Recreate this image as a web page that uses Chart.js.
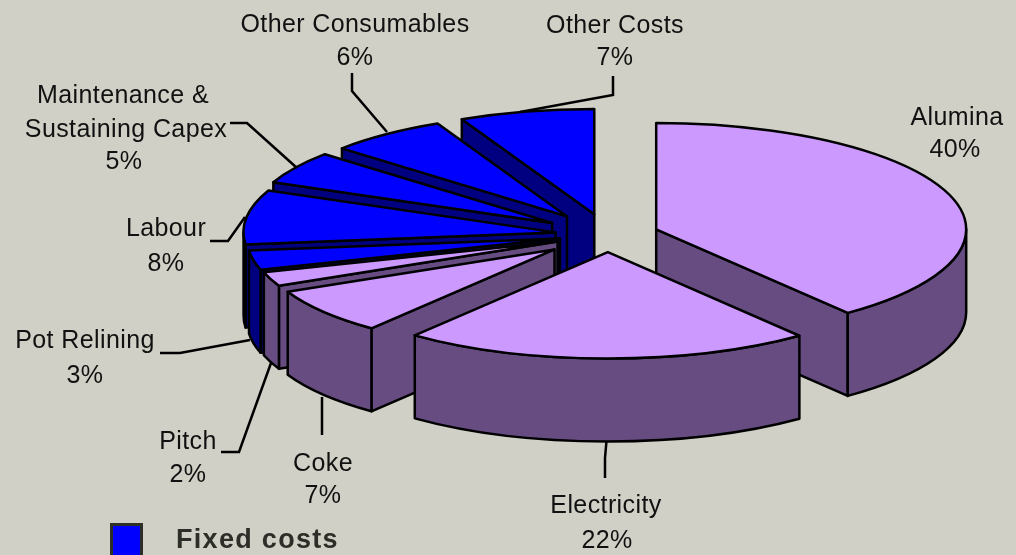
<!DOCTYPE html>
<html>
<head>
<meta charset="utf-8">
<title>Cost breakdown</title>
<script src="https://cdn.jsdelivr.net/npm/chart.js@4"></script>
<style>
  html, body { margin: 0; padding: 0; background: #d0d0c6; overflow: hidden; }
  #wrap { width: 1016px; height: 555px; }
</style>
</head>
<body>
<div id="wrap"><canvas id="pie"></canvas></div>
<script>
"use strict";

const categories = ["Alumina", "Electricity", "Coke", "Pitch", "Pot Relining", "Labour", "Maintenance & Sustaining Capex", "Other Consumables", "Other Costs"];
const shares = [39.4, 21.3, 7.4, 2.2, 2.9, 8.2, 5.1, 6.4, 7.1];
const percents = ["40%", "22%", "7%", "2%", "3%", "8%", "5%", "6%", "7%"];
const legendLabel = "Fixed costs";

// look of the slices
const LILAC = "#cc99ff", LILAC_WALL = "#664c80", BLUE = "#0000ff", BLUE_WALL = "#000080";
const topColors = [LILAC, LILAC, LILAC, LILAC, BLUE, BLUE, BLUE, BLUE, BLUE];
const wallColors = [LILAC_WALL, LILAC_WALL, LILAC_WALL, LILAC_WALL, BLUE_WALL, BLUE_WALL, BLUE_WALL, BLUE_WALL, BLUE_WALL];
const explode = [51, 50, 68, 54, 49, 53, 66, 68, 62];
const rims = [310, 310, 294, 307, 313, 312, 303, 300, 307];
const TILT = 0.343, DEPTH = 83, BASE_RADIUS = 310;

// label lines: text, centre x, baseline y
const labelLines = [
  ["Alumina", 957, 125, 0], ["Electricity", 606, 513, 1], ["Coke", 323, 471, 2], ["Pitch", 188, 449, 3],
  ["Pot Relining", 85, 348, 4], ["Labour", 166, 236, 5], ["Maintenance &", 123, 103, -1], ["Sustaining Capex", 126, 137, 6],
  ["Other Consumables", 355, 32, 7], ["Other Costs", 615, 33, 8]
];
const percentSpots = [[955, 157], [607, 548], [323, 503], [188, 482], [85, 383], [166, 271], [124, 169], [355, 65], [615, 65]];
const leaders = [
  [[606.5, 441], [605, 458], [605, 478]],
  [[322, 397], [322, 435]],
  [[221, 452], [239, 452], [271, 363]],
  [[160, 353], [180, 353], [250, 340]],
  [[210, 241], [228, 241], [245, 217]],
  [[230, 123], [247, 123], [297, 168]],
  [[352, 73], [352, 91], [387, 132]],
  [[613, 76], [613, 95], [520, 112]]
];

function sliceGeometry(arc, i) {
  const mid = (arc.startAngle + arc.endAngle) / 2;
  return {
    a0: arc.startAngle,
    a1: arc.endAngle,
    mid: mid,
    r: rims[i],
    x: arc.x + Math.cos(mid) * explode[i],
    y: arc.y + Math.sin(mid) * explode[i] * TILT
  };
}

function drawWall(ctx, s, a) {
  const px = s.x + Math.cos(a) * s.r, py = s.y + Math.sin(a) * s.r * TILT;
  ctx.beginPath();
  ctx.moveTo(s.x, s.y);
  ctx.lineTo(px, py);
  ctx.lineTo(px, py + DEPTH);
  ctx.lineTo(s.x, s.y + DEPTH);
  ctx.closePath();
  ctx.fill();
  ctx.stroke();
}

// flattened, raised pie: walls first, then the library's own arcs squashed on top
const tiltedPie = {
  id: "tiltedPie",
  beforeDatasetDraw(chart) {
    const ctx = chart.ctx;
    const arcs = chart.getDatasetMeta(0).data;
    const order = arcs.map((arc, i) => i).sort((p, q) => {
      return Math.sin((arcs[p].startAngle + arcs[p].endAngle) / 2) - Math.sin((arcs[q].startAngle + arcs[q].endAngle) / 2);
    });

    ctx.save();
    ctx.lineWidth = 2.5;
    ctx.lineJoin = "round";
    ctx.strokeStyle = "#000";

    order.forEach((i) => {
      const s = sliceGeometry(arcs[i], i);
      ctx.fillStyle = wallColors[i];
      if (Math.cos(s.a0) < -1e-6) drawWall(ctx, s, s.a0);
      if (Math.cos(s.a1) > 1e-6) drawWall(ctx, s, s.a1);
      const lo = Math.max(s.a0, 0), hi = Math.min(s.a1, Math.PI);
      if (lo < hi) {
        ctx.beginPath();
        ctx.ellipse(s.x, s.y, s.r, s.r * TILT, 0, lo, hi);
        ctx.ellipse(s.x, s.y + DEPTH, s.r, s.r * TILT, 0, hi, lo, true);
        ctx.closePath();
        ctx.fill();
        ctx.stroke();
      }
    });

    order.forEach((i) => {
      const arc = arcs[i];
      const s = sliceGeometry(arc, i);
      const zoom = s.r / BASE_RADIUS;
      ctx.save();
      ctx.translate(s.x, s.y);
      ctx.scale(zoom, zoom * TILT);
      ctx.translate(-arc.x, -arc.y);
      arc.draw(ctx);
      ctx.restore();

      ctx.beginPath();
      ctx.moveTo(s.x, s.y);
      ctx.ellipse(s.x, s.y, s.r, s.r * TILT, 0, s.a0, s.a1);
      ctx.closePath();
      ctx.stroke();
    });
    ctx.restore();
    return false;
  },
  afterDraw(chart) {
    const ctx = chart.ctx;
    ctx.save();
    ctx.strokeStyle = "#000";
    ctx.lineWidth = 2.5;
    leaders.forEach((pts) => {
      ctx.beginPath();
      pts.forEach((p, n) => n ? ctx.lineTo(p[0], p[1]) : ctx.moveTo(p[0], p[1]));
      ctx.stroke();
    });

    ctx.fillStyle = "#111";
    ctx.textAlign = "center";
    ctx.textBaseline = "alphabetic";
    ctx.font = '25px "Liberation Sans", Arial, sans-serif';
    ctx.letterSpacing = "0.4px";
    labelLines.forEach((l) => ctx.fillText(l[0], l[1], l[2]));
    percents.forEach((p, i) => ctx.fillText(p, percentSpots[i][0], percentSpots[i][1]));

    ctx.fillStyle = BLUE;
    ctx.strokeStyle = "#2e2e28";
    ctx.lineWidth = 3;
    ctx.fillRect(112, 525, 29, 30);
    ctx.strokeRect(111.5, 524.5, 30, 33);
    ctx.fillStyle = "#2e2e28";
    ctx.textAlign = "left";
    ctx.font = 'bold 27px "Liberation Sans", Arial, sans-serif';
    ctx.letterSpacing = "1.3px";
    ctx.fillText(legendLabel, 176, 548);
    ctx.restore();
  }
};

const myChart = new Chart(document.getElementById("pie"), {
  type: "pie",
  data: {
    labels: categories,
    datasets: [{
      data: shares,
      backgroundColor: topColors,
      borderWidth: 0,
      radius: BASE_RADIUS
    }]
  },
  options: {
    responsive: true,
    maintainAspectRatio: false,
    animation: false,
    layout: { padding: { left: 200, bottom: 85 } },
    plugins: { legend: { display: false }, tooltip: { enabled: false } }
  },
  plugins: [tiltedPie]
});
</script>
</body>
</html>
